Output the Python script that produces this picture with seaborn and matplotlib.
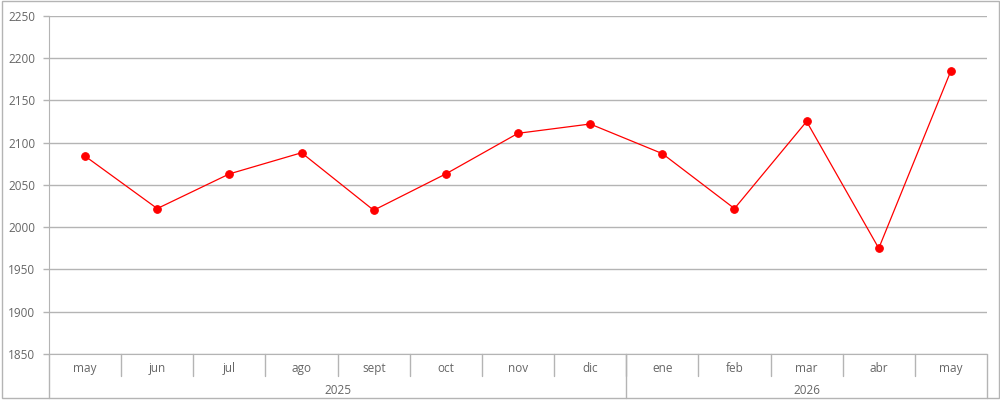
import numpy as np
import pandas as pd
import matplotlib
matplotlib.use("Agg")
import matplotlib.pyplot as plt
import seaborn as sns
from matplotlib.patches import Rectangle

# monthly values, may 2025 .. may 2026
months = ["may", "jun", "jul", "ago", "sept", "oct", "nov", "dic",
          "ene", "feb", "mar", "abr", "may"]
values = [2084, 2022, 2063, 2088, 2020, 2063, 2111, 2122,
          2087, 2022, 2125, 1975, 2185]
years = ["2025", "2026"]
year_span = [(0, 7), (8, 12)]  # first and last month index of each year

sns.set_style("white")
plt.rcParams['font.family'] = ['Open Sans', 'DejaVu Sans']

grid_col = "#b4b4b4"
text_col = "#666666"

df = pd.DataFrame({"pos": np.arange(len(months)), "value": values})

fig = plt.figure(figsize=(10, 4.15), dpi=100)
ax = fig.add_axes([0.049, 0.147, 0.938, 0.815])

sns.lineplot(data=df, x="pos", y="value", ax=ax, color="#ff0000",
             linewidth=0.9, marker="o", markersize=5.5,
             markeredgecolor="#ff0000")

ax.set_xlim(-0.5, len(months) - 0.5)
ax.set_ylim(1850, 2250)
ax.set_yticks(np.arange(1850, 2251, 50))
ax.set_xticks([])
ax.set_xlabel("")
ax.set_ylabel("")
ax.yaxis.grid(True, color=grid_col, linewidth=1)
ax.tick_params(axis="y", length=4, width=1, color=grid_col, labelsize=8.5,
               labelcolor=text_col, pad=6, left=True)
for s in ["top", "right"]:
    ax.spines[s].set_visible(False)
ax.spines["bottom"].set_color(grid_col)
ax.spines["left"].set_color(grid_col)
ax.spines["left"].set_bounds(1850, 2250)

trans = ax.get_xaxis_transform()
lo = -0.13
# y axis line continues down through the category block
ax.plot([-0.5, -0.5], [0, lo], transform=trans, color=grid_col, lw=1, clip_on=False)
ax.plot([len(months) - 0.5] * 2, [0, lo], transform=trans, color=grid_col, lw=1, clip_on=False)

for i, m in enumerate(months):
    ax.text(i, -0.044, m, transform=trans, ha="center", va="center",
            fontsize=8.5, color=text_col)
    if i < len(months) - 1:
        ax.plot([i + 0.5, i + 0.5], [0, -0.065], transform=trans,
                color=grid_col, lw=1, clip_on=False)

for yr, (a, b) in zip(years, year_span):
    ax.text((a + b) / 2, -0.109, yr, transform=trans, ha="center", va="center",
            fontsize=8.5, color=text_col)
    if b < len(months) - 1:
        ax.plot([b + 0.5, b + 0.5], [0, lo], transform=trans,
                color=grid_col, lw=1, clip_on=False)

# outer frame
fig.patches.append(Rectangle((0.0015, 0.041), 0.997, 0.956, transform=fig.transFigure,
                             fill=False, edgecolor=grid_col, lw=1))

fig.savefig("out.png", dpi=100)
